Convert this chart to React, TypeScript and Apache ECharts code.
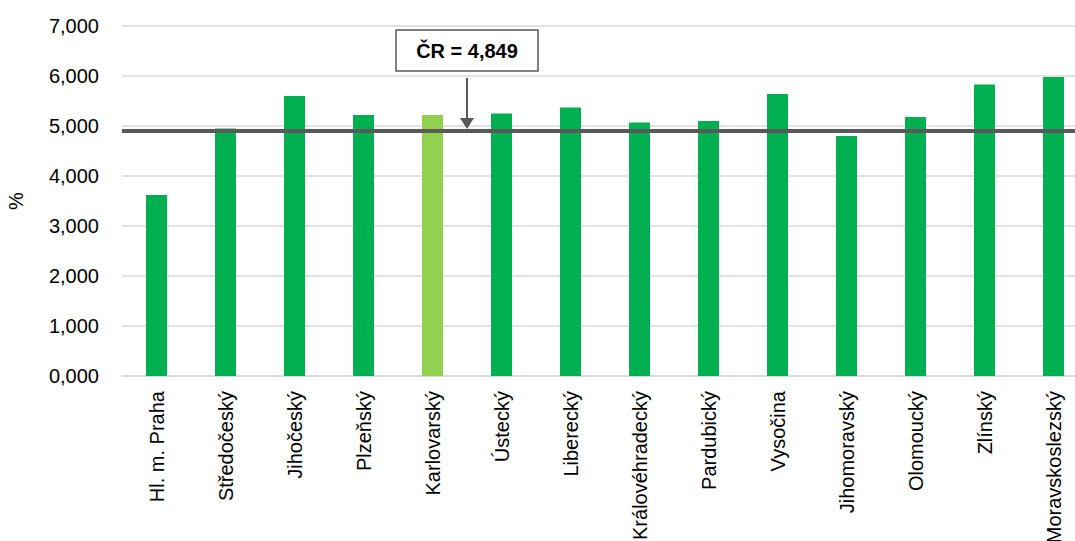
import React, { useEffect, useRef } from "react";
import * as echarts from "echarts";

const categories = [
  "Hl. m. Praha",
  "Středočeský",
  "Jihočeský",
  "Plzeňský",
  "Karlovarský",
  "Ústecký",
  "Liberecký",
  "Královéhradecký",
  "Pardubický",
  "Vysočina",
  "Jihomoravský",
  "Olomoucký",
  "Zlínský",
  "Moravskoslezský",
];
const values = [3.62, 4.95, 5.6, 5.22, 5.22, 5.25, 5.37, 5.07, 5.1, 5.64, 4.8, 5.18, 5.83, 5.98];
const highlighted = "Karlovarský";
const crLabel = "ČR = 4,849";
const crLinePosition = 4.9;

const FONT = "'Liberation Sans', Arial, sans-serif";

export default function App() {
  const ref = useRef<HTMLDivElement>(null);
  useEffect(() => {
    if (!ref.current) return;
    const chart = echarts.init(ref.current, null, { renderer: "svg" });
    chart.setOption({
      animation: false,
      textStyle: { fontFamily: FONT },
      grid: {
        left: 122,
        width: 966,
        top: 26,
        height: 350,
        containLabel: false,
        outerBoundsMode: "none",
      },
      xAxis: {
        type: "category",
        data: categories,
        axisLine: { lineStyle: { color: "#d9d9d9", width: 1.5 } },
        axisTick: { show: false },
        axisLabel: {
          rotate: 90,
          interval: 0,
          margin: 15,
          fontSize: 20,
          color: "#000",
          fontFamily: FONT,
        },
      },
      yAxis: {
        type: "value",
        min: 0,
        max: 7,
        interval: 1,
        name: "%",
        nameLocation: "middle",
        nameRotate: 90,
        nameGap: 96,
        nameTextStyle: { fontSize: 20, color: "#000", fontFamily: FONT },
        axisLine: { show: false },
        axisTick: { show: false },
        splitLine: { lineStyle: { color: "#d9d9d9", width: 1.5 } },
        axisLabel: {
          margin: 23,
          fontSize: 20,
          color: "#000",
          fontFamily: FONT,
          formatter: (v: number) => v.toFixed(3).replace(".", ","),
        },
      },
      series: [
        {
          type: "bar",
          barWidth: 21,
          data: values.map((v, i) => ({
            value: v,
            itemStyle: { color: categories[i] === highlighted ? "#92d050" : "#00b050" },
          })),
          markLine: {
            silent: true,
            symbol: "none",
            label: { show: false },
            lineStyle: { color: "#595959", width: 4, type: "solid" },
            data: [{ yAxis: crLinePosition }],
          },
        },
      ],
    });

    const x4 = chart.convertToPixel({ xAxisIndex: 0 }, categories[4]) as number;
    const x5 = chart.convertToPixel({ xAxisIndex: 0 }, categories[5]) as number;
    const cx = (x4 + x5) / 2;
    const yLine = chart.convertToPixel({ yAxisIndex: 0 }, crLinePosition) as number;
    const boxW = 142;
    const boxH = 41;
    const boxTop = 30;
    const arrowTop = 78;
    const headH = 11;
    const headTip = yLine - 2;
    chart.setOption({
      graphic: [
        {
          type: "rect",
          shape: { x: cx - boxW / 2, y: boxTop, width: boxW, height: boxH },
          style: { fill: "#fff", stroke: "#595959", lineWidth: 1.5 },
          z: 100,
        },
        {
          type: "text",
          x: cx,
          y: boxTop + boxH / 2,
          style: {
            text: crLabel,
            fontSize: 20,
            fontWeight: "bold",
            fontFamily: FONT,
            fill: "#000",
            align: "center",
            verticalAlign: "middle",
          },
          z: 101,
        },
        {
          type: "line",
          shape: { x1: cx, y1: arrowTop, x2: cx, y2: headTip - headH },
          style: { stroke: "#595959", lineWidth: 2 },
          z: 100,
        },
        {
          type: "polygon",
          shape: {
            points: [
              [cx - 7, headTip - headH],
              [cx + 7, headTip - headH],
              [cx, headTip],
            ],
          },
          style: { fill: "#595959" },
          z: 100,
        },
      ],
    });
    return () => chart.dispose();
  }, []);
  return (
    <div
      ref={ref}
      style={{ position: "fixed", left: 0, top: 0, width: 1075, height: 541, background: "#fff" }}
    />
  );
}
